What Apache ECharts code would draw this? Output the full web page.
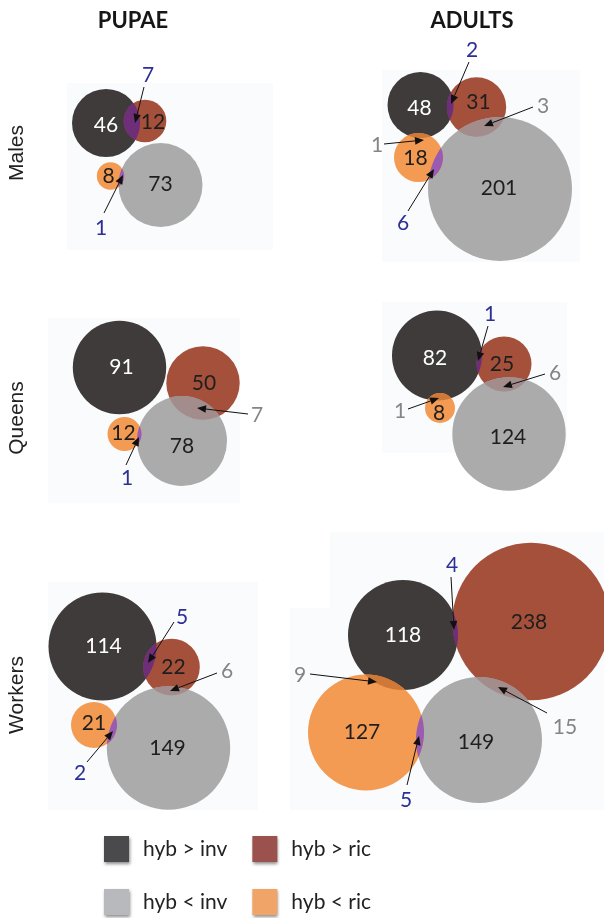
<!DOCTYPE html>
<html><head><meta charset="utf-8">
<script src="https://cdn.jsdelivr.net/npm/echarts@6/dist/echarts.min.js"></script>
<style>html,body{margin:0;padding:0;background:#fff}#c{width:604px;height:918px}</style>
</head><body><div id="c"></div>
<script>
// ---- data ----
const stageTitles = ['PUPAE', 'ADULTS'];
const casteNames = ['Males', 'Queens', 'Workers'];
const setNames = ['hyb > inv', 'hyb > ric', 'hyb < inv', 'hyb < ric'];
// panels: Males PUPAE, Males ADULTS, Queens PUPAE, Queens ADULTS, Workers PUPAE, Workers ADULTS
const countsGtInv = [46, 48, 91, 82, 114, 118];
const countsGtRic = [12, 31, 50, 25, 22, 238];
const countsLtInv = [73, 201, 78, 124, 149, 149];
const countsLtRic = [8, 18, 12, 8, 21, 127];
// overlaps: which panel, which two sets, how many
const overlapPanel = [0, 0, 1, 1, 1, 1, 2, 2, 3, 3, 3, 4, 4, 4, 5, 5, 5, 5];
const overlapSets = [[0,1],[3,2],[0,1],[1,2],[0,3],[3,2],[1,2],[3,2],[0,1],[1,2],[0,3],[0,1],[1,2],[3,2],[0,1],[0,3],[1,2],[3,2]];
const overlapValues = [7, 1, 2, 3, 1, 6, 7, 1, 1, 6, 1, 5, 6, 2, 4, 9, 15, 5];

// ---- layout (Euler circle placement, in chart units) ----
const layoutGtInv = [[106,123,34],[420.5,105,33],[119.5,367.5,46.7],[437,355.5,45],[102.5,646.5,54],[403,635,55]];
const layoutGtRic = [[145,121,21.3],[476.5,107,29.7],[203,383,36.7],[504,364,27.5],[171.5,667,28.3],[531,621.5,78.7]];
const layoutLtInv = [[160.5,185,42],[500,189,72],[182,441,45],[509,434,56.7],[168.5,748,61.7],[479,740,63]];
const layoutLtRic = [[110.5,176,13.7],[418.5,157.5,24.5],[124.5,434,17],[440,408,15],[94,725,23],[366,732.5,58]];
const labelShiftGtInv = [[0,2],[-1,3],[2,0],[-2,3],[1,0],[0,0]];
const labelShiftGtRic = [[8,1],[2,-5],[1,0],[-2,0],[2,0],[-2,1]];
const labelShiftLtInv = [[0,-1],[-1,-1],[0,5],[-1,3],[-1,0],[-3,2]];
const labelShiftLtRic = [[-2,0],[-3,1],[-1,-1],[-1,5],[0,-2],[-4,0]];
const overlapLabelPos = [[148,75],[101,228],[472,50],[543,106],[377,145],[403,223],[257,415],[127,478],[490,314],[555,373],[400,411],[182,617],[227,671],[80,773],[452,565],[300,675],[565,727],[406,800]];
const arrowFrom = [[144,87],[104,213],[469,62],[533,107],[384,144],[408,211],[248,414],[126,465],[488,326],[545,374],[408,409],[174,622],[217,673],[87,762],[451,577],[310,674],[547,713],[407,785]];
const arrowTo = [[135,123],[123,175],[451,104],[484,126],[424,140],[434,169],[197,408],[139,437],[478,361],[503,387],[439,398],[148,663],[170,691],[113,731],[454,630],[377,682],[498,687],[419,736]];
const panelBg = [[67,83,273,250],[382,70,580,262],[48,318,240,503],[382,302,567,453],[48,582,258,810],[330,532,604,810],[290,608,330,810]];

// ---- styles ----
const setColors = ['#3e3b3a', '#a5503a', '#ababab', '#f39b52'];
const legendColors = ['#4a4a4d', '#9b524e', '#b8b9bd', '#f0a468'];
const numColors = ['#ffffff', '#1e1e1e', '#1e1e1e', '#1e1e1e'];
function lensColor(p) {
  const k = p.slice().sort().join('');
  if (k === '01') return '#6e2e78';
  if (k === '23') return '#9a5cb0';
  if (k === '12') return '#a38c8c';
  return '#cf7838';
}
function labelColor(p) {
  const k = p.slice().sort().join('');
  return (k === '01' || k === '23') ? '#2b2f96' : '#858585';
}

const counts = [countsGtInv, countsGtRic, countsLtInv, countsLtRic];
const layouts = [layoutGtInv, layoutGtRic, layoutLtInv, layoutLtRic];
const shifts = [labelShiftGtInv, labelShiftGtRic, labelShiftLtInv, labelShiftLtRic];
const NUMFONT = '21px Lato';

const chart = echarts.init(document.getElementById('c'), null, {renderer: 'canvas'});

function circleSeries(k) {
  return {
    type: 'custom', name: setNames[k], coordinateSystem: 'cartesian2d', z: 2 + k,
    itemStyle: {color: setColors[k]},
    encode: {x: 0, y: 1},
    data: layouts[k].map((l, i) => [l[0], l[1], l[2], counts[k][i]]),
    renderItem: function (params, api) {
      const c = api.coord([api.value(0), api.value(1)]);
      const r = api.size([api.value(2), 0])[0];
      return {type: 'circle', shape: {cx: c[0], cy: c[1], r: r}, style: {fill: setColors[k]}};
    }
  };
}

function lensPoints(c1, r1, c2, r2) {
  const dx = c2[0] - c1[0], dy = c2[1] - c1[1];
  const d = Math.hypot(dx, dy), th = Math.atan2(dy, dx);
  const cl = v => Math.max(-1, Math.min(1, v));
  const a = Math.acos(cl((d * d + r1 * r1 - r2 * r2) / (2 * d * r1)));
  const b = Math.acos(cl((d * d + r2 * r2 - r1 * r1) / (2 * d * r2)));
  const pts = [], N = 30;
  for (let i = 0; i <= N; i++) { const t = -a + 2 * a * i / N; pts.push([c1[0] + r1 * Math.cos(th + t), c1[1] + r1 * Math.sin(th + t)]); }
  for (let i = 0; i <= N; i++) { const t = -b + 2 * b * i / N; pts.push([c2[0] + r2 * Math.cos(th + Math.PI + t), c2[1] + r2 * Math.sin(th + Math.PI + t)]); }
  return pts;
}

const series = [];
// panel backgrounds
series.push({
  type: 'custom', coordinateSystem: 'cartesian2d', z: 1, silent: true,
  encode: {x: [0, 2], y: [1, 3]},
  data: panelBg,
  renderItem: function (params, api) {
    const p0 = api.coord([api.value(0), api.value(1)]);
    const p1 = api.coord([api.value(2), api.value(3)]);
    return {type: 'rect', shape: {x: p0[0], y: p0[1], width: p1[0] - p0[0], height: p1[1] - p0[1]}, style: {fill: '#fafbfd'}};
  }
});
for (let k = 0; k < 4; k++) series.push(circleSeries(k));
// overlap lenses
series.push({
  type: 'custom', coordinateSystem: 'cartesian2d', z: 7, silent: true,
  encode: {x: 0, y: 1},
  data: overlapValues.map((v, j) => [arrowTo[j][0], arrowTo[j][1], v]),
  renderItem: function (params, api) {
    const j = params.dataIndex, p = overlapPanel[j], s = overlapSets[j];
    const A = layouts[s[0]][p], B = layouts[s[1]][p];
    const cA = api.coord([A[0], A[1]]), cB = api.coord([B[0], B[1]]);
    const rA = api.size([A[2], 0])[0], rB = api.size([B[2], 0])[0];
    return {type: 'polygon', shape: {points: lensPoints(cA, rA, cB, rB)}, style: {fill: lensColor(s)}};
  }
});
// count labels inside circles
for (let k = 0; k < 4; k++) {
  series.push({
    type: 'custom', coordinateSystem: 'cartesian2d', z: 8, silent: true,
    encode: {x: 0, y: 1},
    data: layouts[k].map((l, i) => [l[0] + shifts[k][i][0], l[1] + shifts[k][i][1], counts[k][i]]),
    renderItem: function (params, api) {
      const c = api.coord([api.value(0), api.value(1)]);
      return {type: 'text', x: c[0], y: c[1], style: {text: String(api.value(2)), fill: numColors[k], font: NUMFONT, textAlign: 'center', textVerticalAlign: 'middle'}};
    }
  });
}
// overlap labels + arrows
series.push({
  type: 'custom', coordinateSystem: 'cartesian2d', z: 9, silent: true,
  encode: {x: 0, y: 1},
  data: overlapValues.map((v, j) => [overlapLabelPos[j][0], overlapLabelPos[j][1], v]),
  renderItem: function (params, api) {
    const j = params.dataIndex;
    const L = api.coord([api.value(0), api.value(1)]);
    const f = api.coord(arrowFrom[j]), t = api.coord(arrowTo[j]);
    const ang = Math.atan2(t[1] - f[1], t[0] - f[0]);
    const hl = 9, hw = 3.8;
    const bx = t[0] - hl * Math.cos(ang), by = t[1] - hl * Math.sin(ang);
    const nx = -Math.sin(ang) * hw, ny = Math.cos(ang) * hw;
    return {type: 'group', children: [
      {type: 'line', shape: {x1: f[0], y1: f[1], x2: bx, y2: by}, style: {stroke: '#111', lineWidth: 1}},
      {type: 'polygon', shape: {points: [[t[0], t[1]], [bx + nx, by + ny], [bx - nx, by - ny]]}, style: {fill: '#111'}},
      {type: 'text', x: L[0], y: L[1], style: {text: String(api.value(2)), fill: labelColor(overlapSets[j]), font: NUMFONT, textAlign: 'center', textVerticalAlign: 'middle'}}
    ]};
  }
});

const legendBase = {
  orient: 'horizontal', icon: 'rect', itemWidth: 25, itemHeight: 26, itemGap: 25, padding: 0,
  selectedMode: false,
  itemStyle: {shadowBlur: 3, shadowColor: 'rgba(0,0,0,0.45)', shadowOffsetX: 1, shadowOffsetY: 2},
  formatter: n => '{a|' + n + '}',
  textStyle: {rich: {a: {fontFamily: 'Lato', fontSize: 21, color: '#222', padding: [0, 0, 0, 9], width: 110}}}
};

const option = {
  animation: false,
  backgroundColor: '#ffffff',
  grid: {left: 0, right: 0, top: 0, bottom: 0},
  xAxis: {type: 'value', min: 0, max: 604, show: false},
  yAxis: {type: 'value', min: 0, max: 918, inverse: true, show: false},
  legend: [
    Object.assign({}, legendBase, {left: 104, top: 836, data: [
      {name: setNames[0], itemStyle: {color: legendColors[0]}}, {name: setNames[1], itemStyle: {color: legendColors[1]}}]}),
    Object.assign({}, legendBase, {left: 104, top: 889, data: [
      {name: setNames[2], itemStyle: {color: legendColors[2]}}, {name: setNames[3], itemStyle: {color: legendColors[3]}}]})
  ],
  graphic: [
    {type: 'text', x: 133, y: 21, style: {text: stageTitles[0], font: 'bold 22px Lato', fill: '#161616', textAlign: 'center', textVerticalAlign: 'middle'}},
    {type: 'text', x: 472, y: 21, style: {text: stageTitles[1], font: 'bold 22px Lato', fill: '#161616', textAlign: 'center', textVerticalAlign: 'middle'}},
    {type: 'text', x: 17, y: 153, rotation: Math.PI / 2, style: {text: casteNames[0], font: '21px "Liberation Sans"', fill: '#222', textAlign: 'center', textVerticalAlign: 'middle'}},
    {type: 'text', x: 17, y: 418, rotation: Math.PI / 2, style: {text: casteNames[1], font: '21px "Liberation Sans"', fill: '#222', textAlign: 'center', textVerticalAlign: 'middle'}},
    {type: 'text', x: 17, y: 695, rotation: Math.PI / 2, style: {text: casteNames[2], font: '21px "Liberation Sans"', fill: '#222', textAlign: 'center', textVerticalAlign: 'middle'}}
  ],
  series: series
};
chart.setOption(option);
</script></body></html>
